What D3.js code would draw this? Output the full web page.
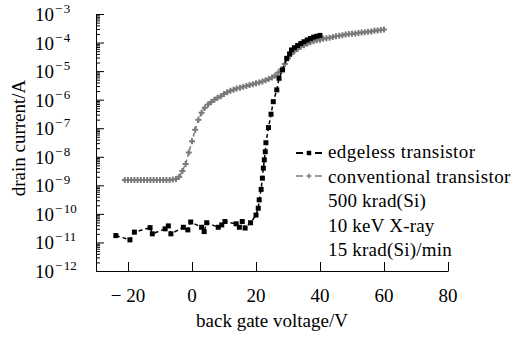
<!DOCTYPE html>
<html>
<head>
<meta charset="utf-8">
<script src="https://cdn.jsdelivr.net/npm/d3@7"></script>
<style>
  body { margin: 0; background: #fff; }
  text { font-family: "Liberation Serif", "Times New Roman", serif; fill: #000; }
  .axis path, .axis line { stroke: #000; stroke-width: 1; }
</style>
</head>
<body>
<svg id="chart"></svg>
<script>
// conventional transistor: back gate voltage (V) and drain current (A)
const convV = [-21, -20, -19, -18, -17, -16, -15, -14, -13, -12, -11, -10, -9, -8, -7, -6,
  -5, -4, -3, -2, -1, 0, 1, 2, 3, 4, 5, 6, 7, 8, 9, 10, 11, 12, 13, 14, 15, 16, 17, 18, 19,
  20, 21, 22, 23, 24, 25, 26, 27, 28, 29, 30, 31, 32, 33, 34, 35, 36, 37, 38, 39, 40,
  41, 42, 43, 44, 45, 46, 47, 48, 49, 50, 51, 52, 53, 54, 55, 56, 57, 58, 59, 60];
const convI = [1.55e-9, 1.55e-9, 1.55e-9, 1.55e-9, 1.55e-9, 1.55e-9, 1.55e-9, 1.55e-9,
  1.55e-9, 1.55e-9, 1.55e-9, 1.55e-9, 1.55e-9, 1.55e-9, 1.55e-9, 1.6e-9,
  1.66e-9, 2.0e-9, 3.2e-9, 5.6e-9, 1.4e-8, 3.5e-8, 8.9e-8, 2.0e-7, 3.5e-7, 5.2e-7,
  6.8e-7, 8.3e-7, 1.0e-6, 1.17e-6, 1.32e-6, 1.58e-6, 1.82e-6, 2.04e-6, 2.24e-6, 2.45e-6,
  2.63e-6, 2.82e-6, 3.02e-6, 3.24e-6, 3.47e-6, 3.72e-6, 3.98e-6, 4.37e-6, 4.79e-6, 5.25e-6,
  6.03e-6, 7.08e-6, 8.9e-6, 1.17e-5, 1.78e-5, 2.82e-5, 3.98e-5, 5.0e-5, 6.0e-5, 7.1e-5,
  8.1e-5, 9.1e-5, 1.02e-4, 1.12e-4, 1.2e-4, 1.26e-4, 1.35e-4, 1.41e-4, 1.48e-4, 1.58e-4,
  1.66e-4, 1.74e-4, 1.82e-4, 1.9e-4, 2.0e-4, 2.05e-4, 2.09e-4, 2.14e-4, 2.24e-4, 2.29e-4,
  2.4e-4, 2.45e-4, 2.57e-4, 2.63e-4, 2.75e-4, 2.88e-4];

// edgeless transistor
const edgeV = [-23.8, -19.4, -18, -13.1, -12.4, -8.4, -7.4, -6.6, -2.7, -1.3, -0.4, 3.0, 3.8,
  4.6, 8.2, 9.3, 10.3, 13.8, 14.8, 15.7, 16.6, 18.3, 20.0, 20.7, 21.0, 21.6, 22.0, 22.3,
  22.6, 22.9, 23.1, 23.9, 24.7, 25.4, 26.5, 27.2, 28.3, 29.6, 30.5, 31.1, 32, 33, 34, 35,
  36, 37, 38, 39, 40];
const edgeI = [1.74e-11, 1.23e-11, 2.3e-11, 3.3e-11, 2.0e-11, 3.0e-11, 3.8e-11, 2.0e-11,
  3.4e-11, 2.75e-11, 5.2e-11, 3.4e-11, 2.4e-11, 4.9e-11, 3.4e-11, 4.1e-11, 5.4e-11, 4.5e-11,
  3.4e-11, 5.4e-11, 3.2e-11, 4.9e-11, 9.1e-11, 1.58e-10, 3.1e-10, 7.2e-10, 1.78e-9, 4.0e-9,
  7.8e-9, 1.5e-8, 3.1e-8, 1.05e-7, 3.1e-7, 8.5e-7, 2.2e-6, 5.6e-6, 1.1e-5, 2.8e-5, 4.0e-5,
  5.5e-5, 6.6e-5, 7.9e-5, 9.3e-5, 1.07e-4, 1.23e-4, 1.38e-4, 1.55e-4, 1.66e-4, 1.78e-4];

const xTicks = [-20, 0, 20, 40, 60, 80];
const yExponents = [-3, -4, -5, -6, -7, -8, -9, -10, -11, -12];
const legendNotes = ["500 krad(Si)", "10 keV X-ray", "15 krad(Si)/min"];

const W = 513, H = 337;
const margin = {top: 14, right: 65, bottom: 66, left: 96};
const width = W - margin.left - margin.right;
const height = H - margin.top - margin.bottom;

const svg = d3.select('#chart').attr('width', W).attr('height', H);
const chart = svg.append('g').attr('transform', `translate(${margin.left},${margin.top})`);

const xScale = d3.scaleLinear().domain([-30, 80]).range([0, width]);
const yScale = d3.scaleLog().domain([1e-12, 1e-3]).range([height, 0]);

// x axis, ticks pointing inward
chart.append('g')
    .attr('class', 'axis')
    .attr('transform', `translate(0,${height})`)
    .call(d3.axisBottom(xScale).tickValues(xTicks).tickSize(-9).tickSizeOuter(0).tickFormat(''));

chart.selectAll('.xlabel')
    .data(xTicks)
  .join('text')
    .attr('class', 'xlabel')
    .attr('x', d => xScale(d))
    .attr('y', height + 31)
    .attr('text-anchor', 'middle')
    .style('font-size', '19px')
    .text(d => d < 0 ? '\u2212 ' + Math.abs(d) : d);

// y axis: major + minor ticks pointing inward
const majors = yExponents.map(e => Math.pow(10, e));
const minors = [];
yExponents.slice(1).forEach(e => {
    for (let m = 2; m <= 9; m++) minors.push(m * Math.pow(10, e));
});

chart.append('g')
    .attr('class', 'axis')
    .call(d3.axisLeft(yScale).tickValues(majors).tickSize(-8).tickSizeOuter(0).tickFormat(''));
chart.append('g')
    .attr('class', 'axis minor')
    .call(d3.axisLeft(yScale).tickValues(minors).tickSize(-4).tickSizeOuter(0).tickFormat(''))
    .select('.domain').remove();

const ylab = svg.selectAll('.ylabel')
    .data(yExponents)
  .join('text')
    .attr('class', 'ylabel')
    .attr('x', 35)
    .attr('y', d => margin.top + yScale(Math.pow(10, d)) + 7)
    .style('font-size', '19px');
ylab.append('tspan').text('10');
ylab.append('tspan')
    .attr('dx', 1)
    .attr('dy', -8)
    .style('font-size', '13px')
    .text('\u2212');
ylab.append('tspan')
    .attr('dx', 1.5)
    .style('font-size', '13px')
    .text(d => Math.abs(d));

// axis titles
svg.append('text')
    .attr('x', margin.left + xScale(25))
    .attr('y', 327)
    .attr('text-anchor', 'middle')
    .style('font-size', '19px')
    .text('back gate voltage/V');

svg.append('text')
    .attr('transform', `translate(25,${margin.top + 124}) rotate(-90)`)
    .attr('text-anchor', 'middle')
    .style('font-size', '19px')
    .text('drain current/A');

// series
const convData = convV.map((v, i) => ({v: v, i: convI[i]}));
const edgeData = edgeV.map((v, i) => ({v: v, i: edgeI[i]}));

const line = d3.line().x(d => xScale(d.v)).y(d => yScale(d.i));
const grey = '#7a7a7a';

chart.append('path')
    .datum(convData)
    .attr('fill', 'none')
    .attr('stroke', grey)
    .attr('stroke-width', 1.5)
    .attr('stroke-dasharray', '4,3')
    .attr('d', line);

const plus = 'M-3,0H3M0,-3V3';
chart.selectAll('.conv')
    .data(convData)
  .join('path')
    .attr('class', 'conv')
    .attr('transform', d => `translate(${xScale(d.v)},${yScale(d.i)})`)
    .attr('d', plus)
    .attr('stroke', grey)
    .attr('stroke-width', 2);

chart.append('path')
    .datum(edgeData)
    .attr('fill', 'none')
    .attr('stroke', '#000')
    .attr('stroke-width', 1.5)
    .attr('stroke-dasharray', '4,3')
    .attr('d', line);

chart.selectAll('.edge')
    .data(edgeData)
  .join('path')
    .attr('class', 'edge')
    .attr('transform', d => `translate(${xScale(d.v)},${yScale(d.i)})`)
    .attr('d', d3.symbol(d3.symbolSquare, 25)())
    .attr('fill', '#000');

// legend
const legend = svg.append('g').attr('transform', 'translate(296,0)');
const rows = [
    {label: 'edgeless transistor', color: '#000', mark: 'square', w: 2},
    {label: 'conventional transistor', color: grey, mark: 'plus', w: 1.5}
];
rows.forEach((r, k) => {
    const y = 153 + k * 23;
    [[0, 7], [19, 26]].forEach(seg => {
        legend.append('line')
            .attr('x1', seg[0]).attr('x2', seg[1]).attr('y1', y).attr('y2', y)
            .attr('stroke', r.color).attr('stroke-width', r.w);
    });
    if (r.mark === 'square') {
        legend.append('path')
            .attr('transform', `translate(13,${y})`)
            .attr('d', d3.symbol(d3.symbolSquare, 20)())
            .attr('fill', r.color);
    } else {
        legend.append('path')
            .attr('transform', `translate(13,${y})`)
            .attr('d', 'M-2.5,0H2.5M0,-2.5V2.5')
            .attr('stroke', r.color).attr('stroke-width', 1.5);
    }
});
const texts = rows.map(r => r.label).concat(legendNotes);
texts.forEach((t, k) => {
    legend.append('text')
        .attr('x', 32).attr('y', 158 + k * 24.5)
        .style('font-size', '19px')
        .style('letter-spacing', k < 2 ? '0.4px' : '0.2px')
        .text(t);
});
</script>
</body>
</html>
